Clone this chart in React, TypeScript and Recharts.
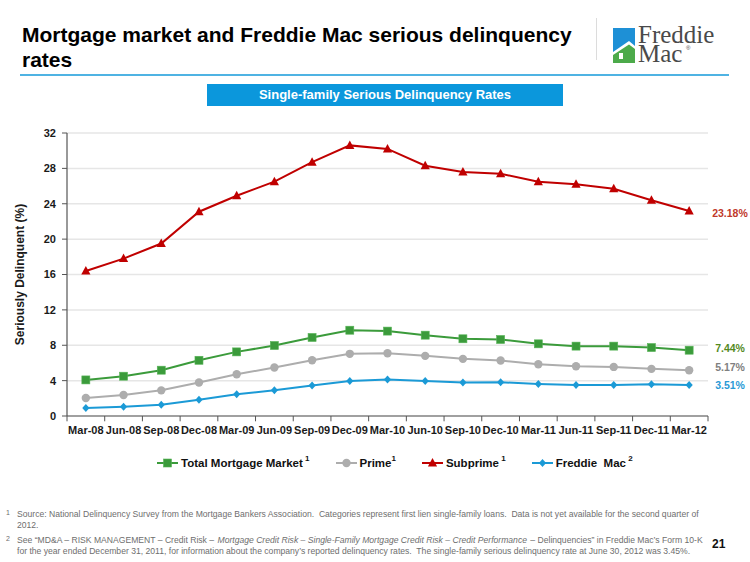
import React from 'react';
import {
  LineChart,
  Line,
  XAxis,
  YAxis,
  CartesianGrid,
  Legend,
  LabelList,
  ReferenceLine,
} from 'recharts';

const categories = [
  'Mar-08', 'Jun-08', 'Sep-08', 'Dec-08', 'Mar-09', 'Jun-09', 'Sep-09', 'Dec-09',
  'Mar-10', 'Jun-10', 'Sep-10', 'Dec-10', 'Mar-11', 'Jun-11', 'Sep-11', 'Dec-11', 'Mar-12',
];
const totalMarket = [4.08, 4.5, 5.18, 6.3, 7.25, 7.97, 8.88, 9.7, 9.6, 9.14, 8.73, 8.65, 8.16, 7.9, 7.9, 7.74, 7.44];
const prime = [2.04, 2.38, 2.9, 3.78, 4.72, 5.48, 6.3, 7.03, 7.1, 6.8, 6.46, 6.27, 5.86, 5.63, 5.55, 5.33, 5.17];
const subprime = [16.4, 17.8, 19.5, 23.1, 24.9, 26.5, 28.7, 30.6, 30.2, 28.3, 27.6, 27.4, 26.5, 26.2, 25.7, 24.4, 23.18];
const freddieMac = [0.9, 1.06, 1.28, 1.85, 2.46, 2.9, 3.44, 3.97, 4.12, 3.97, 3.78, 3.82, 3.63, 3.51, 3.51, 3.59, 3.51];
const yTicks = [0, 4, 8, 12, 16, 20, 24, 28, 32];
const seriesNames = ['Total Mortgage Market', 'Prime', 'Subprime', 'Freddie  Mac'];
const seriesNotes = [' 1', '1', ' 1', ' 2'];

const xCenters = categories.map((_, i) => i + 0.5);
const xBounds = categories.map((_, i) => i).concat([categories.length]);

const data = categories.map((c, i) => ({
  x: i + 0.5,
  cat: c,
  total: totalMarket[i],
  prime: prime[i],
  subprime: subprime[i],
  freddie: freddieMac[i],
}));

const FONT = '"Liberation Sans", Arial, sans-serif';
const GREEN = '#3b9b3b';
const GRAY = '#adadad';
const RED = '#c00000';
const BLUE = '#1b9ad6';

type Shape = 'square' | 'circle' | 'triangle' | 'diamond';

const Marker = ({ shape, cx, cy, color }: { shape: Shape; cx: number; cy: number; color: string }) => {
  if (shape === 'square') return <rect x={cx - 4} y={cy - 4} width={8} height={8} fill={color} stroke="#56b356" strokeWidth={0.6} />;
  if (shape === 'circle') return <circle cx={cx} cy={cy} r={4.2} fill={color} />;
  if (shape === 'triangle')
    return <polygon points={`${cx},${cy - 5} ${cx + 4.6},${cy + 3.5} ${cx - 4.6},${cy + 3.5}`} fill={color} />;
  return <polygon points={`${cx},${cy - 4} ${cx + 3.6},${cy} ${cx},${cy + 4} ${cx - 3.6},${cy}`} fill={color} />;
};

const dotFor = (shape: Shape, color: string) => (props: any) => {
  const { cx, cy, index } = props;
  if (cx == null || cy == null) return <g key={`d-${index}`} />;
  return <Marker key={`d-${shape}-${index}`} shape={shape} cx={cx} cy={cy} color={color} />;
};

const endLabel = (color: string, dy: number, dx: number) => (props: any) => {
  const { x, y, value, index } = props;
  if (index !== categories.length - 1) return null;
  return (
    <text x={x + dx} y={y + dy + 4} fill={color} fontSize={10.5} fontWeight="bold" fontFamily={FONT} textAnchor="start">
      {Number(value).toFixed(2)}%
    </text>
  );
};

const shapes: Shape[] = ['square', 'circle', 'triangle', 'diamond'];
const colors = [GREEN, GRAY, RED, BLUE];

const renderLegend = () => (
  <div style={{ display: 'flex', alignItems: 'center', gap: 26, fontFamily: FONT }}>
    {seriesNames.map((n, i) => (
      <div key={n} style={{ display: 'flex', alignItems: 'center' }}>
        <svg width={21} height={12} style={{ marginRight: 3 }}>
          <line x1={0} y1={6} x2={21} y2={6} stroke={colors[i]} strokeWidth={2} />
          <Marker shape={shapes[i]} cx={10.5} cy={6} color={colors[i]} />
        </svg>
        <span style={{ fontSize: 11.5, fontWeight: 'bold', color: '#111', whiteSpace: 'pre' }}>{n}</span>
        <span style={{ fontSize: 8, fontWeight: 'bold', color: '#111', position: 'relative', top: -5, whiteSpace: 'pre' }}>
          {seriesNotes[i]}
        </span>
      </div>
    ))}
  </div>
);

export default function App() {
  return (
    <div
      style={{
        position: 'absolute',
        left: 0,
        top: 0,
        width: 750,
        height: 562,
        background: '#fff',
        fontFamily: FONT,
        overflow: 'hidden',
      }}
    >
      {/* Title */}
      <div
        style={{
          position: 'absolute',
          left: 22,
          top: 22,
          width: 575,
          fontSize: 21,
          fontWeight: 'bold',
          lineHeight: '25px',
          color: '#000',
          whiteSpace: 'nowrap',
        }}
      >
        Mortgage market and Freddie Mac serious delinquency
        <br />
        rates
      </div>
      {/* separator */}
      <div style={{ position: 'absolute', left: 596, top: 18, width: 1, height: 42, background: '#dcdcdc' }} />
      {/* logo */}
      <svg style={{ position: 'absolute', left: 613, top: 24 }} width={24} height={40}>
        <polygon points="0,4 22,4 22,22 16,17 0,28" fill="#1e90d6" />
        <polygon points="0,31 16,20.5 22,25 22,39 0,39" fill="#4caa4a" />
        <rect x={6} y={29} width={4} height={6} fill="#fff" />
      </svg>
      <div
        style={{
          position: 'absolute',
          left: 638,
          top: 25,
          fontFamily: '"Liberation Serif", "Times New Roman", serif',
          fontSize: 25,
          lineHeight: '19px',
          color: '#4a4a4a',
        }}
      >
        Freddie
      </div>
      <div
        style={{
          position: 'absolute',
          left: 638,
          top: 44,
          fontFamily: '"Liberation Serif", "Times New Roman", serif',
          fontSize: 25,
          lineHeight: '19px',
          color: '#4a4a4a',
        }}
      >
        Mac
      </div>
      <div style={{ position: 'absolute', left: 686, top: 45, fontSize: 6, lineHeight: '7px', color: '#4a4a4a' }}>®</div>
      {/* rule */}
      <div style={{ position: 'absolute', left: 20, top: 74, width: 709, height: 2, background: '#4fb3e3' }} />
      {/* banner */}
      <div
        style={{
          position: 'absolute',
          left: 207,
          top: 84,
          width: 356,
          height: 22,
          background: '#0b97dc',
          color: '#fff',
          fontSize: 13,
          fontWeight: 'bold',
          textAlign: 'center',
          lineHeight: '22px',
        }}
      >
        Single-family Serious Delinquency Rates
      </div>

      {/* chart */}
      <div style={{ position: 'absolute', left: 0, top: 120 }}>
        <LineChart width={750} height={370} data={data} margin={{ top: 13, right: 42, bottom: 44, left: 20 }}>
          <CartesianGrid vertical={false} stroke="#e6e6e6" strokeWidth={1.5} />
          <XAxis
            dataKey="x"
            type="number"
            domain={[0, categories.length]}
            ticks={xCenters}
            interval={0}
            tickFormatter={(v: number) => categories[Math.floor(v)]}
            tickLine={false}
            tickSize={6}
            tickMargin={4}
            axisLine={{ stroke: '#555', strokeWidth: 1.2 }}
            tick={{ fontSize: 11, fontWeight: 'bold', fill: '#1a1a1a', fontFamily: FONT }}
            height={30}
          />
          <YAxis
            domain={[0, 32]}
            ticks={yTicks}
            interval={0}
            width={47}
            tickSize={5}
            tickMargin={6}
            axisLine={{ stroke: '#555', strokeWidth: 1.2 }}
            tickLine={{ stroke: '#555' }}
            tick={{ fontSize: 11, fontWeight: 'bold', fill: '#1a1a1a', fontFamily: FONT }}
            label={{
              value: 'Seriously Delinquent (%)',
              angle: -90,
              position: 'insideLeft',
              offset: 0,
              style: { textAnchor: 'middle', fontSize: 12, fontWeight: 'bold', fill: '#1a1a1a', fontFamily: FONT },
            }}
          />
          {xBounds.map((b) => (
            <ReferenceLine
              key={`b-${b}`}
              segment={[
                { x: b, y: 0 },
                { x: b, y: -0.6 },
              ]}
              stroke="#555"
              strokeWidth={1}
              ifOverflow="visible"
            />
          ))}
          <Line
            type="linear"
            dataKey="total"
            name={seriesNames[0]}
            stroke={GREEN}
            strokeWidth={2}
            dot={dotFor('square', GREEN)}
            isAnimationActive={false}
          >
            <LabelList dataKey="total" content={endLabel('#548a1e', -2, 26)} />
          </Line>
          <Line
            type="linear"
            dataKey="prime"
            name={seriesNames[1]}
            stroke={GRAY}
            strokeWidth={2}
            dot={dotFor('circle', GRAY)}
            isAnimationActive={false}
          >
            <LabelList dataKey="prime" content={endLabel('#808080', -3, 26)} />
          </Line>
          <Line
            type="linear"
            dataKey="subprime"
            name={seriesNames[2]}
            stroke={RED}
            strokeWidth={2}
            dot={dotFor('triangle', RED)}
            isAnimationActive={false}
          >
            <LabelList dataKey="subprime" content={endLabel('#c0392b', 2, 23)} />
          </Line>
          <Line
            type="linear"
            dataKey="freddie"
            name={seriesNames[3]}
            stroke={BLUE}
            strokeWidth={2}
            dot={dotFor('diamond', BLUE)}
            isAnimationActive={false}
          >
            <LabelList dataKey="freddie" content={endLabel('#2a9ad6', 0, 26)} />
          </Line>
          <Legend
            verticalAlign="middle"
            layout="horizontal"
            content={renderLegend}
            wrapperStyle={{ top: 337, left: 157, width: 560 }}
          />
        </LineChart>
      </div>

      {/* footnotes */}
      <div style={{ position: 'absolute', left: 6, top: 509, width: 706, fontSize: 8.6, lineHeight: '11px', color: '#6e6e6e' }}>
        <div style={{ display: 'flex' }}>
          <span style={{ width: 11, fontSize: 7, position: 'relative', top: -2 }}>1</span>
          <span style={{ flex: 1 }}>
            Source: National Delinquency Survey from the Mortgage Bankers Association.&nbsp; Categories represent first lien
            single-family loans.&nbsp; Data is not yet available for the second quarter of 2012.
          </span>
        </div>
        <div style={{ display: 'flex', marginTop: 4 }}>
          <span style={{ width: 11, fontSize: 7, position: 'relative', top: -2 }}>2</span>
          <span style={{ flex: 1 }}>
            See “MD&amp;A – RISK MANAGEMENT – Credit Risk –{' '}
            <i style={{ padding: '0 1px' }}>Mortgage Credit Risk – Single-Family Mortgage Credit Risk – Credit Performance</i>{' '}
            – Delinquencies” in Freddie Mac’s Form 10-K for the year ended December 31, 2011, for information about the company’s
            reported delinquency rates.&nbsp; The single-family serious delinquency rate at June 30, 2012 was 3.45%.
          </span>
        </div>
      </div>
      <div style={{ position: 'absolute', left: 712, top: 537, fontSize: 12, fontWeight: 'bold', color: '#111' }}>21</div>
    </div>
  );
}
